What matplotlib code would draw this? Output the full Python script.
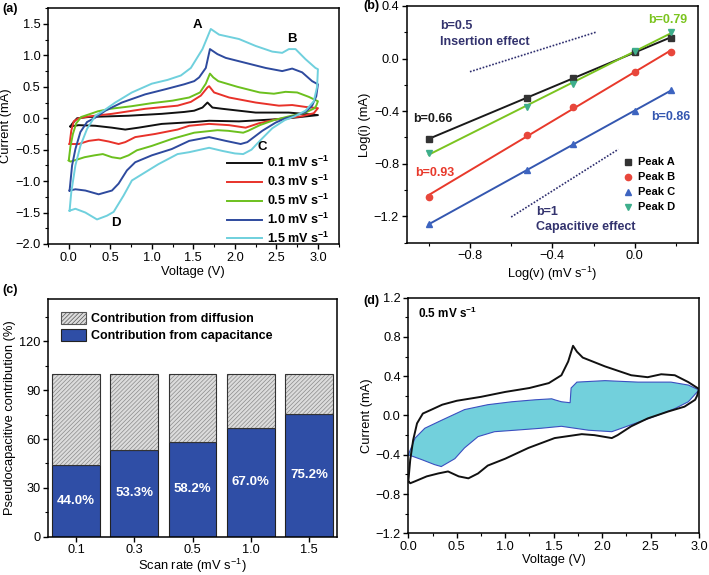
import numpy as np
import matplotlib
matplotlib.use("Agg")
import matplotlib.pyplot as plt
from matplotlib.patches import Patch
from matplotlib.lines import Line2D
from matplotlib.ticker import MultipleLocator

plt.rcParams['font.family'] = ['Liberation Sans', 'DejaVu Sans']
plt.rcParams['mathtext.fontset'] = 'custom'
plt.rcParams['mathtext.rm'] = 'Liberation Sans'
plt.rcParams['mathtext.bf'] = 'Liberation Sans:bold'
plt.rcParams['mathtext.it'] = 'Liberation Sans:italic'
plt.rcParams['hatch.linewidth'] = 0.5

# ---------------- Panel (a) data: CV curves ----------------
scan_labels = ["0.1", "0.3", "0.5", "1.0", "1.5"]

v01_an = [0.02, 0.04, 0.10, 0.24, 0.72, 1.12, 1.39, 1.51, 1.61, 1.67, 1.73, 1.85, 2.25, 2.65, 3.0]
i01_an = [-0.13, -0.09, 0.0, 0.02, 0.04, 0.07, 0.10, 0.12, 0.17, 0.25, 0.17, 0.15, 0.09, 0.09, 0.05]
v01_ca = [3.0, 2.65, 2.45, 2.05, 1.69, 1.51, 1.12, 0.84, 0.68, 0.52, 0.32, 0.12, 0.02]
i01_ca = [0.05, 0.0, -0.02, -0.05, -0.04, -0.06, -0.09, -0.15, -0.18, -0.15, -0.12, -0.11, -0.13]

v03_an = [0.01, 0.03, 0.06, 0.12, 0.25, 0.52, 0.92, 1.31, 1.47, 1.59, 1.67, 1.69, 1.75, 1.93, 2.25, 2.53, 2.69, 2.85, 3.0]
i03_an = [-0.41, -0.2, -0.05, 0.0, 0.03, 0.07, 0.15, 0.20, 0.26, 0.36, 0.49, 0.51, 0.41, 0.33, 0.25, 0.20, 0.21, 0.18, 0.16]
v03_ca = [3.0, 2.95, 2.8, 2.6, 2.49, 2.29, 2.13, 1.93, 1.69, 1.45, 1.31, 1.04, 0.80, 0.68, 0.60, 0.48, 0.36, 0.24, 0.12, 0.01]
i03_ca = [0.16, 0.08, 0.03, 0.0, -0.02, -0.08, -0.15, -0.11, -0.09, -0.12, -0.18, -0.25, -0.30, -0.38, -0.41, -0.37, -0.34, -0.36, -0.41, -0.41]

v05_an = [0.0, 0.02, 0.05, 0.09, 0.15, 0.24, 0.35, 0.5, 0.75, 1.0, 1.25, 1.45, 1.58, 1.65, 1.70, 1.74, 1.80, 2.03, 2.30, 2.47, 2.61, 2.75, 2.89, 3.0]
i05_an = [-0.67, -0.45, -0.25, -0.08, 0.02, 0.06, 0.11, 0.15, 0.19, 0.24, 0.28, 0.33, 0.41, 0.55, 0.71, 0.65, 0.59, 0.50, 0.41, 0.39, 0.42, 0.41, 0.34, 0.27]
v05_ca = [3.0, 2.98, 2.96, 2.85, 2.68, 2.47, 2.30, 2.16, 2.10, 1.92, 1.79, 1.51, 1.24, 1.0, 0.82, 0.72, 0.62, 0.52, 0.41, 0.31, 0.19, 0.07, 0.02, 0.0]
i05_ca = [0.27, 0.2, 0.16, 0.09, 0.04, -0.03, -0.11, -0.20, -0.23, -0.20, -0.19, -0.23, -0.33, -0.44, -0.51, -0.59, -0.64, -0.62, -0.57, -0.59, -0.62, -0.67, -0.69, -0.67]

v10_an = [0.01, 0.04, 0.08, 0.14, 0.22, 0.32, 0.44, 0.64, 0.92, 1.16, 1.39, 1.51, 1.57, 1.65, 1.70, 1.79, 1.89, 2.13, 2.37, 2.57, 2.69, 2.81, 2.93, 3.0]
i10_an = [-1.15, -0.75, -0.49, -0.22, -0.06, 0.01, 0.12, 0.25, 0.38, 0.46, 0.54, 0.59, 0.65, 0.80, 1.10, 1.02, 0.96, 0.88, 0.80, 0.75, 0.79, 0.73, 0.59, 0.54]
v10_ca = [3.0, 2.98, 2.93, 2.85, 2.7, 2.61, 2.49, 2.33, 2.15, 2.07, 1.89, 1.69, 1.45, 1.24, 1.0, 0.80, 0.70, 0.60, 0.52, 0.36, 0.20, 0.08, 0.01]
i10_ca = [0.54, 0.35, 0.2, 0.1, 0.03, 0.0, -0.07, -0.2, -0.38, -0.41, -0.36, -0.30, -0.36, -0.49, -0.59, -0.70, -0.83, -1.04, -1.15, -1.21, -1.15, -1.13, -1.15]

v15_an = [0.01, 0.03, 0.08, 0.14, 0.22, 0.32, 0.42, 0.56, 0.76, 1.0, 1.19, 1.35, 1.47, 1.61, 1.71, 1.81, 2.05, 2.25, 2.45, 2.57, 2.65, 2.73, 2.85, 2.97, 3.0]
i15_an = [-1.47, -1.18, -0.75, -0.44, -0.17, 0.04, 0.12, 0.25, 0.41, 0.55, 0.61, 0.68, 0.80, 1.10, 1.42, 1.33, 1.26, 1.15, 1.06, 1.04, 1.10, 1.10, 0.94, 0.80, 0.78]
v15_ca = [3.0, 2.99, 2.95, 2.85, 2.72, 2.6, 2.45, 2.3, 2.2, 2.1, 2.0, 1.85, 1.69, 1.45, 1.31, 1.08, 0.92, 0.76, 0.66, 0.54, 0.46, 0.34, 0.20, 0.08, 0.01]
i15_ca = [0.78, 0.50, 0.27, 0.12, 0.03, -0.03, -0.16, -0.36, -0.50, -0.57, -0.56, -0.52, -0.47, -0.54, -0.57, -0.73, -0.86, -0.99, -1.23, -1.49, -1.55, -1.61, -1.50, -1.44, -1.47]

cv_colors = ["#111111", "#e8322a", "#6cc01e", "#2e4a9e", "#6fd0dd"]

# ---------------- Panel (b) data: log(i) vs log(v) ----------------
log_v = [-1.0, -0.523, -0.301, 0.0, 0.176]
log_iA = [-0.61, -0.30, -0.15, 0.05, 0.16]
log_iB = [-1.05, -0.58, -0.37, -0.10, 0.05]
log_iC = [-1.26, -0.85, -0.65, -0.40, -0.24]
log_iD = [-0.72, -0.37, -0.19, 0.06, 0.20]
peak_names = ["Peak A", "Peak B", "Peak C", "Peak D"]
b_values = ["b=0.66", "b=0.93", "b=0.86", "b=0.79"]
ref05_x = [-0.8, -0.19]
ref05_y = [-0.10, 0.20]
ref1_x = [-0.6, -0.08]
ref1_y = [-1.205, -0.69]

# ---------------- Panel (c) data ----------------
rate_cats = ["0.1", "0.3", "0.5", "1.0", "1.5"]
cap_pct = [44.0, 53.3, 58.2, 67.0, 75.2]

# ---------------- Panel (d) data: capacitive region ----------------
vfill = [0.0, 0.07, 0.17, 0.34, 0.58, 0.82, 1.07, 1.31, 1.48, 1.51, 1.58, 1.67, 1.68, 1.74, 2.03, 2.37, 2.71, 2.89, 3.0,
         2.89, 2.75, 2.54, 2.37, 2.20, 2.10, 1.86, 1.58, 1.37, 1.10, 0.89, 0.72, 0.58, 0.48, 0.34, 0.27, 0.14, 0.0]
ifill = [-0.40, -0.23, -0.13, -0.05, 0.06, 0.11, 0.14, 0.16, 0.17, 0.16, 0.14, 0.13, 0.28, 0.34, 0.355, 0.34, 0.34, 0.31, 0.26,
         0.14, 0.07, -0.01, -0.07, -0.13, -0.165, -0.15, -0.11, -0.13, -0.15, -0.165, -0.215, -0.33, -0.44, -0.52, -0.50, -0.45, -0.40]

fig = plt.figure(figsize=(7.09, 5.75), dpi=100)

TF = 9.2   # tick font
LF = 9.3   # label font


def style(ax):
    for s in ax.spines.values():
        s.set_linewidth(1.1)
    ax.tick_params(which='major', direction='out', length=3.5, width=1.0, labelsize=TF, pad=2)
    ax.tick_params(which='minor', direction='out', length=2, width=0.8)


sup = r"mV s$^{\mathbf{-1}}$"

# ---------------- (a) ----------------
axa = fig.add_axes([0.0677, 0.5757, 0.410, 0.410])
curves = [(v01_an, i01_an, v01_ca, i01_ca), (v03_an, i03_an, v03_ca, i03_ca),
          (v05_an, i05_an, v05_ca, i05_ca), (v10_an, i10_an, v10_ca, i10_ca),
          (v15_an, i15_an, v15_ca, i15_ca)]
for k in [0, 1, 2, 3, 4]:
    va, ia, vc, ic = curves[k]
    axa.plot(list(va) + list(vc), list(ia) + list(ic), color=cv_colors[k], lw=1.4,
             label=scan_labels[k] + " " + sup)
axa.set_xlim(-0.25, 3.25)
axa.set_ylim(-2.0, 1.75)
axa.xaxis.set_major_locator(MultipleLocator(0.5))
axa.xaxis.set_minor_locator(MultipleLocator(0.25))
axa.yaxis.set_major_locator(MultipleLocator(0.5))
axa.yaxis.set_minor_locator(MultipleLocator(0.25))
style(axa)
axa.set_xlabel("Voltage (V)", fontsize=LF, labelpad=2)
axa.set_ylabel("Current (mA)", fontsize=LF, labelpad=2)
leg = axa.legend(loc='lower right', bbox_to_anchor=(1.0, -0.045), frameon=False,
                 prop={'weight': 'bold', 'size': 9}, handlelength=2.8, labelspacing=0.3,
                 handletextpad=0.4, borderaxespad=0.3)
for t, lbl in zip(["A", "B", "C", "D"], [(1.55, 1.49), (2.69, 1.26), (2.33, -0.45), (0.57, -1.67)]):
    axa.text(lbl[0], lbl[1], t, fontsize=9.5, fontweight='bold', ha='center', va='center')
fig.text(0.003, 0.984, "(a)", fontsize=9, fontweight='bold', va='center')

# ---------------- (b) ----------------
axb = fig.add_axes([0.5736, 0.578, 0.411, 0.4116])
line_cols = ["#1a1a1a", "#e8392b", "#3457b0", "#7bc41f"]
mark_cols = ["#333333", "#e8473c", "#3d64c0", "#3eae8c"]
markers = ["s", "o", "^", "v"]
series = [log_iA, log_iB, log_iC, log_iD]
xv = np.array(log_v)
handles = []
for k in range(4):
    p = np.polyfit(xv, np.array(series[k]), 1)
    axb.plot(xv, np.polyval(p, xv), color=line_cols[k], lw=1.4, zorder=2)
    axb.plot(xv, series[k], ls='none', marker=markers[k], ms=4.5, color=mark_cols[k], zorder=3)
    handles.append(Line2D([], [], ls='none', marker=markers[k], ms=4.5, color=mark_cols[k], label=peak_names[k]))
axb.plot(ref05_x, ref05_y, ls=(0, (1, 1)), color="#2d2d6e", lw=1.2)
axb.plot(ref1_x, ref1_y, ls=(0, (1, 1)), color="#2d2d6e", lw=1.2)
axb.set_xlim(-1.107, 0.307)
axb.set_ylim(-1.4, 0.4)
axb.xaxis.set_major_locator(MultipleLocator(0.4))
axb.xaxis.set_minor_locator(MultipleLocator(0.2))
axb.yaxis.set_major_locator(MultipleLocator(0.4))
axb.yaxis.set_minor_locator(MultipleLocator(0.2))
style(axb)
axb.set_xlabel(r"Log(v) (mV s$^{-1}$)", fontsize=LF, labelpad=2)
axb.set_ylabel("Log(i) (mA)", fontsize=LF, labelpad=2)
axb.legend(handles=handles, loc='upper left', bbox_to_anchor=(0.74, 0.36), frameon=False,
           prop={'weight': 'bold', 'size': 8}, handlelength=1.0, handletextpad=0.4,
           labelspacing=0.45, borderaxespad=0.0, borderpad=0.0)
navy = "#33336e"
axb.text(-0.946, 0.25, "b=0.5", color=navy, fontsize=9, fontweight='bold', va='center')
axb.text(-0.946, 0.128, "Insertion effect", color=navy, fontsize=9, fontweight='bold', va='center')
axb.text(-0.48, -1.167, "b=1", color=navy, fontsize=9, fontweight='bold', va='center')
axb.text(-0.48, -1.28, "Capacitive effect", color=navy, fontsize=9, fontweight='bold', va='center')
bpos = [(-1.075, -0.456), (-1.067, -0.87), (0.078, -0.443), (0.065, 0.29)]
for k in range(4):
    axb.text(bpos[k][0], bpos[k][1], b_values[k], color=line_cols[k],
             fontsize=9, fontweight='bold', va='center')
fig.text(0.5346, 0.989, "(b)", fontsize=9, fontweight='bold', va='center', ha='right')

# ---------------- (c) ----------------
axc = fig.add_axes([0.0681, 0.0666, 0.407, 0.4134])
xc = np.arange(len(rate_cats))
cap = np.array(cap_pct)
axc.bar(xc, cap, width=0.82, color="#2f4ea6", edgecolor="#222222", lw=0.8)
axc.bar(xc, 100 - cap, bottom=cap, width=0.82, color="#dcdcdc", edgecolor="#8a8a8a", hatch="////////", lw=0)
axc.bar(xc, 100 - cap, bottom=cap, width=0.82, fill=False, edgecolor="#333333", lw=0.8)
for k in range(len(cap)):
    axc.text(xc[k], cap[k] / 2, f"{cap_pct[k]:.1f}%", color="white", fontsize=9.5, fontweight='bold',
             ha='center', va='center')
axc.set_xlim(-0.475, 4.475)
axc.set_ylim(0, 146)
axc.set_xticks(xc)
axc.set_xticklabels(rate_cats)
axc.yaxis.set_major_locator(MultipleLocator(30))
axc.yaxis.set_minor_locator(MultipleLocator(15))
style(axc)
axc.set_xlabel(r"Scan rate (mV s$^{-1}$)", fontsize=LF, labelpad=0.5)
axc.set_ylabel("Pseudocapacitive contribution (%)", fontsize=LF, labelpad=2)
hp = [Patch(facecolor="#dcdcdc", edgecolor="#555555", hatch="////////", lw=0.8, label="Contribution from diffusion"),
      Patch(facecolor="#2f4ea6", edgecolor="#222222", lw=0.8, label="Contribution from capacitance")]
axc.legend(handles=hp, loc='upper left', frameon=False, prop={'weight': 'bold', 'size': 9},
           handlelength=2.0, handleheight=1.1, handletextpad=0.4, labelspacing=0.3, borderaxespad=0.6)
fig.text(0.003, 0.495, "(c)", fontsize=9, fontweight='bold', va='center')

# ---------------- (d) ----------------
axd = fig.add_axes([0.5759, 0.0725, 0.41, 0.4098])
axd.fill(vfill, ifill, facecolor="#72d0dc", edgecolor="#3b4fc0", lw=0.8, zorder=2)
axd.plot(list(v05_an) + list(v05_ca), list(i05_an) + list(i05_ca), color="#111111", lw=1.4, zorder=3)
axd.set_xlim(0, 3)
axd.set_ylim(-1.2, 1.2)
axd.xaxis.set_major_locator(MultipleLocator(0.5))
axd.xaxis.set_minor_locator(MultipleLocator(0.25))
axd.yaxis.set_major_locator(MultipleLocator(0.4))
axd.yaxis.set_minor_locator(MultipleLocator(0.2))
style(axd)
axd.set_xlabel("Voltage (V)", fontsize=LF, labelpad=0.5)
axd.set_ylabel("Current (mA)", fontsize=LF, labelpad=2)
axd.text(0.1, 1.04, "0.5 " + sup, fontsize=8.5, fontweight='bold', va='center')
fig.text(0.5346, 0.477, "(d)", fontsize=9, fontweight='bold', va='center', ha='right')

fig.savefig("out.png", dpi=100)
